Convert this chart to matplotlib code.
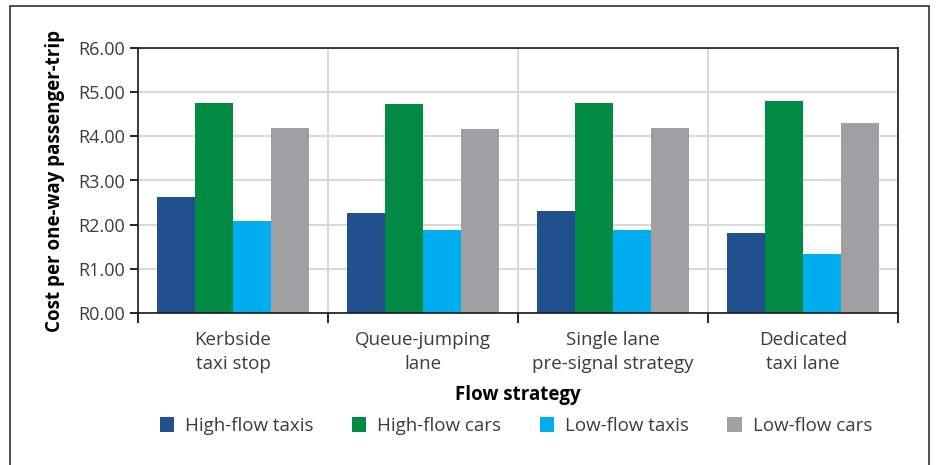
import numpy as np
import matplotlib.pyplot as plt
from matplotlib.patches import Rectangle

# data
categories = ['Kerbside\ntaxi stop', 'Queue-jumping\nlane',
              'Single lane\npre-signal strategy', 'Dedicated\ntaxi lane']
series_names = ['High-flow taxis', 'High-flow cars', 'Low-flow taxis', 'Low-flow cars']
high_flow_taxis = [2.63, 2.27, 2.31, 1.81]
high_flow_cars = [4.75, 4.73, 4.75, 4.80]
low_flow_taxis = [2.09, 1.88, 1.88, 1.34]
low_flow_cars = [4.18, 4.16, 4.18, 4.30]
y_ticks = [0, 1, 2, 3, 4, 5, 6]
y_tick_labels = ['R0.00', 'R1.00', 'R2.00', 'R3.00', 'R4.00', 'R5.00', 'R6.00']

colors = ['#21508f', '#008a44', '#00aeef', '#a0a0a2']
text_color = '#3c3c3c'

plt.rcParams['font.family'] = ['Open Sans', 'DejaVu Sans']

fig = plt.figure(figsize=(9.36, 4.65), dpi=100)
ax = fig.add_axes([138 / 936, 1 - 313.3 / 465, 760 / 936, 265.6 / 465])

x = np.arange(len(categories))
width = 0.2
all_series = [high_flow_taxis, high_flow_cars, low_flow_taxis, low_flow_cars]
for i, (vals, name) in enumerate(zip(all_series, series_names)):
    ax.bar(x + (i - 1.5) * width, vals, width, color=colors[i], label=name, zorder=3)

ax.set_xlim(-0.5, len(categories) - 0.5)
ax.set_ylim(0, 6)
ax.set_yticks(y_ticks)
ax.set_yticklabels(y_tick_labels, color=text_color, fontsize=13)
ax.tick_params(axis='y', length=6, width=1.2, direction='out', pad=3)

# boundaries carry the ticks and vertical gridlines, labels sit on minor ticks
ax.set_xticks(np.arange(-0.5, len(categories), 1.0))
ax.set_xticklabels([])
ax.tick_params(axis='x', which='major', length=7, width=1.2, direction='out')
ax.set_xticks(x, minor=True)
ax.set_xticklabels(categories, minor=True, color=text_color, fontsize=13.5, linespacing=1.4)
ax.tick_params(axis='x', which='minor', length=0, pad=13)

ax.grid(True, color='#d9d9d9', linewidth=1.5, zorder=0)
ax.set_axisbelow(True)
for s in ax.spines.values():
    s.set_color('#1a1a1a')
    s.set_linewidth(1.2)
    s.set_zorder(4)

ax.set_ylabel('Cost per one-way passenger-trip', fontsize=13.5, fontweight='bold',
              color='black', labelpad=10)
ax.set_xlabel('Flow strategy', fontsize=13.5, fontweight='bold', color='black', labelpad=9)

leg = fig.legend(loc='center', bbox_to_anchor=(516 / 936, 1 - 426 / 465), ncol=4, frameon=False,
                 fontsize=13.5, handlelength=0.75, handleheight=0.9, handletextpad=0.6,
                 columnspacing=2.05)
for t in leg.get_texts():
    t.set_color(text_color)

# outer frame round the figure
fig.patches.append(Rectangle((10 / 936, -0.01), 919 / 936, 1 - 6 / 465 + 0.01,
                             transform=fig.transFigure, fill=False,
                             edgecolor='#333333', linewidth=1.2))

plt.savefig('out.png', dpi=100)
